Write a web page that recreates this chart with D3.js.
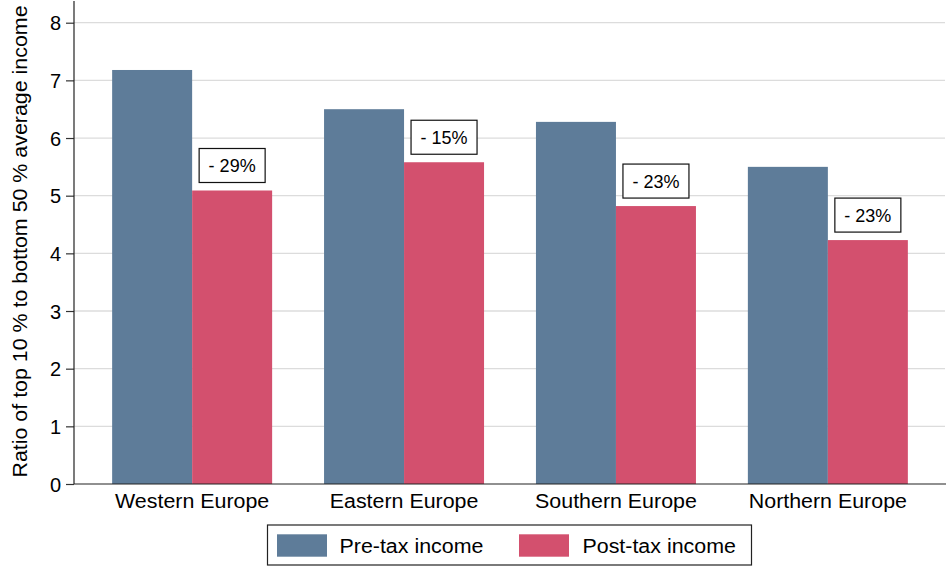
<!DOCTYPE html>
<html>
<head>
<meta charset="utf-8">
<script src="https://cdn.jsdelivr.net/npm/d3@7/dist/d3.min.js"></script>
<style>
  html, body { margin: 0; padding: 0; background: #fff; }
  svg { display: block; font-family: "Liberation Sans", Arial, Helvetica, sans-serif; }
</style>
</head>
<body>
<svg id="chart" width="946" height="568"></svg>
<script>
// Regions and the two income concepts
const regions = ["Western Europe", "Eastern Europe", "Southern Europe", "Northern Europe"];
const seriesNames = ["Pre-tax income", "Post-tax income"];
// Ratio of top 10% to bottom 50% average income
const preTax = [7.18, 6.50, 6.28, 5.50];
const postTax = [5.09, 5.58, 4.82, 4.23];
// Reduction labels shown above the post-tax bars
const reductionLabels = ["- 29%", "- 15%", "- 23%", "- 23%"];
const yTicks = [0, 1, 2, 3, 4, 5, 6, 7, 8];

const colors = { pre: "#5e7c99", post: "#d3506e" };
const plotLeft = 74, plotRight = 946, plotTop = 22.7, plotBottom = 484;
const labelSize = 20;
const stretch = 1.07; // slightly widened lettering

const svg = d3.select("#chart");

const y = d3.scaleLinear().domain([0, 8]).range([plotBottom, plotTop]);
const x = d3.scaleBand().domain(regions).range([plotLeft, plotRight])
  .paddingInner(0.245).paddingOuter(0.18);
const inner = d3.scaleBand().domain(["pre", "post"]).range([0, x.bandwidth()]).padding(0);

function wideText(sel, tx, ty, str, opts = {}) {
  return sel.append("text")
    .attr("transform", `translate(${tx},${ty}) ${opts.rotate ? "rotate(" + opts.rotate + ")" : ""} scale(${opts.sx || stretch},1)`)
    .attr("text-anchor", opts.anchor || "middle")
    .attr("font-size", opts.size || labelSize)
    .attr("fill", "#000")
    .text(str);
}

// Gridlines
svg.append("g").selectAll("line").data(yTicks.filter(d => d > 0)).join("line")
  .attr("x1", plotLeft).attr("x2", plotRight - 1)
  .attr("y1", d => y(d)).attr("y2", d => y(d))
  .attr("stroke", "#dcdcdc").attr("stroke-width", 1.3);

// Bars
const groups = svg.append("g").selectAll("g").data(regions).join("g")
  .attr("transform", d => `translate(${x(d)},0)`);
groups.append("rect")
  .attr("x", inner("pre")).attr("width", inner.bandwidth())
  .attr("y", (d, i) => y(preTax[i])).attr("height", (d, i) => y(0) - y(preTax[i]))
  .attr("fill", colors.pre);
groups.append("rect")
  .attr("x", inner("post")).attr("width", inner.bandwidth())
  .attr("y", (d, i) => y(postTax[i])).attr("height", (d, i) => y(0) - y(postTax[i]))
  .attr("fill", colors.post);

// Reduction label boxes
const boxW = 66, boxH = 34, gap = 8;
groups.each(function (d, i) {
  const g = d3.select(this);
  const cx = inner("post") + inner.bandwidth() / 2;
  const by = y(postTax[i]) - gap - boxH;
  g.append("rect")
    .attr("x", cx - boxW / 2).attr("y", by)
    .attr("width", boxW).attr("height", boxH)
    .attr("fill", "#fff").attr("stroke", "#111").attr("stroke-width", 1.2);
  wideText(g, cx, by + boxH / 2 + 6.5, reductionLabels[i], { sx: 1.0, size: 18 });
});

// Y axis
const yAxis = svg.append("g").attr("transform", `translate(${plotLeft},0)`)
  .call(d3.axisLeft(y).tickValues(yTicks).tickSize(8).tickPadding(5).tickFormat(d3.format("d")));
yAxis.select(".domain").remove();
yAxis.selectAll(".tick line").attr("stroke", "#333").attr("stroke-width", 1.2);
yAxis.selectAll(".tick text").attr("font-size", labelSize).attr("fill", "#000")
  .attr("font-family", "'Liberation Sans', Arial, sans-serif").attr("dy", "0.36em");
svg.append("line").attr("x1", plotLeft).attr("x2", plotLeft).attr("y1", 1).attr("y2", plotBottom)
  .attr("stroke", "#222").attr("stroke-width", 1.2);

// X axis
svg.append("line").attr("x1", plotLeft).attr("x2", plotRight).attr("y1", plotBottom).attr("y2", plotBottom)
  .attr("stroke", "#222").attr("stroke-width", 1.2);
regions.forEach(r => wideText(svg, x(r) + x.bandwidth() / 2, 508, r));

// Y axis title
wideText(svg, 27, (plotBottom + 1) / 2 - 1, "Ratio of top 10 % to bottom 50 % average income", { rotate: -90 });

// Legend
const leg = svg.append("g");
leg.append("rect").attr("x", 267.5).attr("y", 525).attr("width", 484).attr("height", 40)
  .attr("fill", "#fff").attr("stroke", "#222").attr("stroke-width", 1.2);
const legendItems = [
  { name: seriesNames[0], color: colors.pre, sx: 277, tx: 339.5 },
  { name: seriesNames[1], color: colors.post, sx: 519, tx: 582.5 }
];
legendItems.forEach(it => {
  leg.append("rect").attr("x", it.sx).attr("y", 534.3).attr("width", 50).attr("height", 22.4)
    .attr("fill", it.color);
  wideText(leg, it.tx, 553, it.name, { anchor: "start" });
});
</script>
</body>
</html>
